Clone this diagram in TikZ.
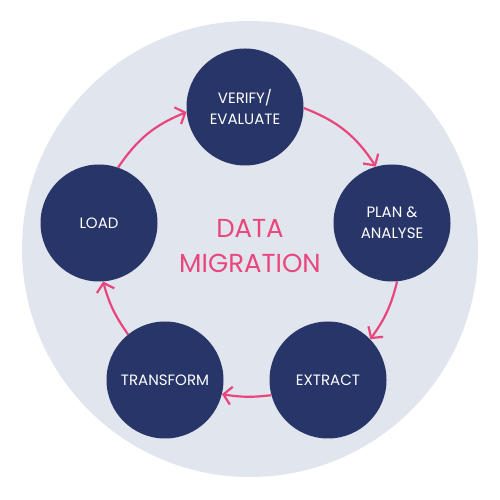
\documentclass[tikz,border=0pt]{standalone}
\usepackage{fontspec}
\setmainfont{Poppins}
\usetikzlibrary{arrows.meta}
\definecolor{bgc}{HTML}{E1E5EE}
\definecolor{navy}{HTML}{283568}
\definecolor{pinkc}{HTML}{E9467D}
\begin{document}
\begin{tikzpicture}[x=1pt,y=1pt,
 stage/.style={circle, fill=navy, minimum size=117pt, inner sep=0pt, text=white,
   font=\fontsize{15}{21}\selectfont, align=center},
 flow/.style={draw=pinkc, line width=2.2pt, -{Straight Barb[length=8pt,width=18pt]}}]
\useasboundingbox (0,0) rectangle (500,500);
\fill[white] (0,0) rectangle (500,500);
\node[circle, fill=bgc, minimum size=456pt, inner sep=0pt] (bg) at (250,251) {};
\node[stage] (v) at (245,393) {VERIFY/\\EVALUATE};
\node[stage] (p) at (392,277) {PLAN \&\\ANALYSE};
\node[stage] (e) at (328,120) {EXTRACT};
\node[stage] (t) at (165,120) {TRANSFORM};
\node[stage] (l) at (99,277) {LOAD};
\node[text=pinkc, font=\fontsize{26}{35}\selectfont, align=center] (title) at (250,254) {DATA\\MIGRATION};
\draw[flow] (v.-1) to[bend left=18] (p.106);
\draw[flow] (p.-85) to[bend left=11] (e.44);
\draw[flow] (e.195) to[bend left=8] (t.-14);
\draw[flow] (t.129) to[bend left=10] (l.-86);
\draw[flow] (l.71) to[bend left=17] (v.185);
\end{tikzpicture}
\end{document}
